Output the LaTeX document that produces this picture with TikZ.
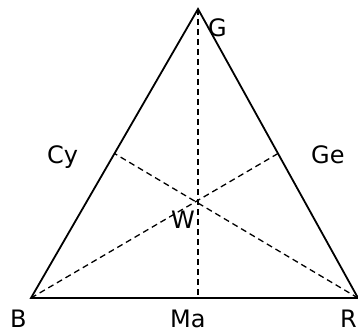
\documentclass[tikz,border=0pt]{standalone}
\usepackage{fontspec}
\setmainfont{DejaVu Sans}
\usetikzlibrary{calc}
\begin{document}
\begin{tikzpicture}[x=1pt,y=-1pt,
  edge/.style={line width=1.8pt, line join=miter},
  median/.style={line width=1.3pt, dash pattern=on 6pt off 4pt},
  lbl/.style={inner sep=0pt, anchor=base west, font=\fontsize{24}{28}\selectfont}]
\useasboundingbox (0,0) rectangle (358,331);
\coordinate (B) at (31,298);
\coordinate (R) at (358,298);
\coordinate (G) at (198,9);
\coordinate (Ma) at (G |- B);
\coordinate (Cy) at ($(B)!0.5!(G)$);
\coordinate (Ge) at ($(R)!0.5!(G)$);
\coordinate (W) at (198,201);
\draw[median] (G) -- (Ma);
\draw[median] (B) -- (Ge);
\draw[median] (R) -- (Cy);
\draw[edge] (B) -- (G) -- (R) -- cycle;
\node[lbl] (lG) at (208,37) {G};
\node[lbl] (lB) at (10,327) {B};
\node[lbl] (lMa) at (170,327) {Ma};
\node[lbl] (lR) at (340,327) {R};
\node[lbl] (lCy) at (47,163) {Cy};
\node[lbl] (lGe) at (311,164) {Ge};
\node[lbl] (lW) at (171,228) {W};
\end{tikzpicture}
\end{document}
